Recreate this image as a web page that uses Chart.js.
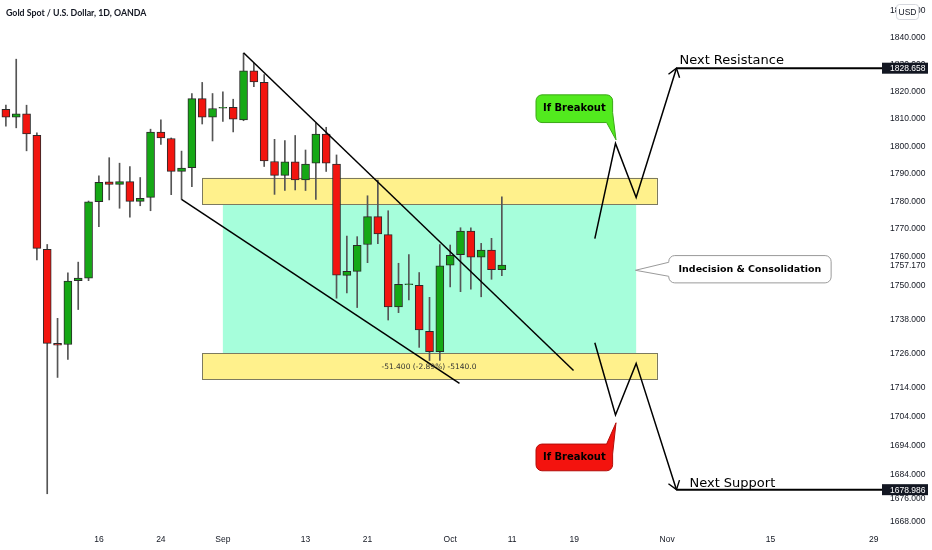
<!DOCTYPE html>
<html>
<head>
<meta charset="utf-8">
<title>Gold Spot / U.S. Dollar, 1D, OANDA</title>
<script src="https://cdn.jsdelivr.net/npm/chart.js@4.4.1/dist/chart.umd.min.js"></script>
<style>
  html, body { margin: 0; padding: 0; background: #ffffff; }
  #wrap { width: 932px; height: 550px; position: relative; }
</style>
</head>
<body>
<div id="wrap"><canvas id="goldChart"></canvas></div>
<script>
// Daily bars, index 0 = Aug 16 (weekends skipped)
const barIndex = [-9, -8, -7, -6, -5, -4, -3, -2, -1, 0, 1, 2, 3, 4, 5, 6, 7, 8, 9, 10,
                  11, 12, 13, 14, 15, 16, 17, 18, 19, 20, 21, 22, 23, 24, 25, 26, 27, 28, 29, 30,
                  31, 32, 33, 34, 35, 36, 37, 38, 39];
const opens  = [1813.5, 1810.6, 1811.8, 1804.0, 1762.8, 1729.5, 1729.1, 1751.6, 1752.5, 1779.9,
                1787.0, 1786.1, 1787.1, 1780.0, 1781.4, 1805.1, 1802.8, 1790.8, 1792.2, 1817.4,
                1810.6, 1813.9, 1814.2, 1809.6, 1827.7, 1823.4, 1794.4, 1789.4, 1794.3, 1787.7,
                1793.8, 1804.4, 1793.5, 1753.5, 1754.9, 1764.5, 1774.5, 1768.0, 1742.3, 1750.2,
                1750.0, 1733.7, 1726.6, 1757.1, 1760.9, 1769.3, 1760.0, 1762.5, 1755.5];
const highs  = [1815.0, 1832.0, 1815.0, 1804.9, 1764.5, 1738.3, 1754.4, 1758.2, 1780.1, 1789.2,
                1795.8, 1793.8, 1792.6, 1788.6, 1806.2, 1809.6, 1803.0, 1798.2, 1819.3, 1823.4,
                1819.3, 1819.9, 1817.2, 1834.2, 1830.5, 1826.3, 1802.5, 1802.0, 1803.9, 1798.6,
                1808.4, 1806.9, 1796.8, 1767.5, 1767.3, 1782.0, 1787.7, 1776.6, 1757.8, 1760.9,
                1754.5, 1745.7, 1764.5, 1764.3, 1770.5, 1770.5, 1764.9, 1766.7, 1781.6];
const lows   = [1807.3, 1806.7, 1798.3, 1759.0, 1677.6, 1717.6, 1723.9, 1741.4, 1751.6, 1770.9,
                1780.5, 1777.5, 1774.3, 1778.4, 1776.6, 1800.6, 1782.4, 1780.7, 1785.3, 1808.1,
                1801.9, 1809.0, 1805.2, 1809.3, 1821.8, 1792.6, 1782.5, 1783.9, 1784.1, 1783.9,
                1780.7, 1790.8, 1745.4, 1747.3, 1742.1, 1758.0, 1764.8, 1737.7, 1740.3, 1744.8,
                1728.1, 1723.5, 1723.5, 1749.4, 1747.7, 1748.6, 1745.9, 1752.1, 1753.4];
const closes = [1810.6, 1811.8, 1804.5, 1763.1, 1729.5, 1728.9, 1751.5, 1752.5, 1779.8, 1786.9,
                1786.1, 1787.1, 1780.0, 1781.1, 1805.1, 1803.0, 1790.8, 1792.0, 1817.4, 1810.6,
                1813.8, 1814.2, 1809.9, 1827.7, 1823.6, 1794.6, 1789.4, 1794.3, 1787.7, 1793.5,
                1804.4, 1793.8, 1753.6, 1754.9, 1764.2, 1774.5, 1768.3, 1742.3, 1750.3, 1750.5,
                1734.2, 1726.6, 1756.9, 1760.6, 1769.3, 1760.0, 1762.5, 1755.5, 1757.17];

// Time axis labels
const dateTickIndex  = [0, 6, 12, 20, 26, 34, 40, 46, 55, 65, 75];
const dateTickLabels = ['16', '24', 'Sep', '13', '21', 'Oct', '11', '19', 'Nov', '15', '29'];

// Price axis labels (log scale)
const priceTicks = [1850, 1840, 1830, 1820, 1810, 1800, 1790, 1780, 1770, 1760, 1750,
                    1738, 1726, 1714, 1704, 1694, 1684, 1676, 1668];

// Drawings: trend lines of the falling channel
const trendUpperX = [14.0, 45.94];
const trendUpperY = [1834.4, 1720.0];
const trendLowerX = [8.0, 34.9];
const trendLowerY = [1780.7, 1715.5];

// Breakout scenarios
const bullPathX = [48.0, 50.0, 52.0, 55.9];
const bullPathY = [1766.6, 1801.0, 1781.4, 1828.658];
const bearPathX = [48.0, 50.0, 52.0, 55.9];
const bearPathY = [1729.7, 1704.6, 1722.5, 1678.986];

// Zones: consolidation box, supply band, demand band
const zoneFrom   = [12, 10, 10];
const zoneTo     = [52, 54, 54];
const zoneTop    = [1779.0, 1788.5, 1726.0];
const zoneBottom = [1726.0, 1779.0, 1717.0];

// Callout tips and texts
const calloutX    = [50.05, 50.05, 51.93];
const calloutY    = [1802.3, 1701.9, 1755.3];
const calloutText = ['If Breakout', 'If Breakout', 'Indecision & Consolidation'];

const lastPrice = 1757.17;
const measureX = 27.35;
const measureY = 1721.3;
const measureText = '-51.400 (-2.89%) -5140.0';

const xMin = -9.57, xMax = 75.6;
const yMin = 1666.0, yMax = 1854.1;

const AXIS_FONT = { family: 'Liberation Sans, Arial, sans-serif', size: 8.5 };
const TEXT_COLOR = '#131722';

const bodies = barIndex.map((x, i) => ({ x: x, y: [opens[i], closes[i]] }));
const wicks  = barIndex.map((x, i) => ({ x: x, y: [lows[i], highs[i]] }));
const candleColors = barIndex.map((x, i) => closes[i] >= opens[i] ? '#15A815' : '#F2150F');
const toPoints = (xs, ys) => xs.map((x, i) => ({ x: x, y: ys[i] }));

function roundRectPath(ctx, l, t, r, b, rad) {
    ctx.moveTo(l + rad, t);
    ctx.lineTo(r - rad, t);
    ctx.arcTo(r, t, r, t + rad, rad);
    ctx.lineTo(r, b - rad);
    ctx.arcTo(r, b, r - rad, b, rad);
    ctx.lineTo(l + rad, b);
    ctx.arcTo(l, b, l, b - rad, rad);
    ctx.lineTo(l, t + rad);
    ctx.arcTo(l, t, l + rad, t, rad);
}

function drawArrowHead(ctx, fromX, fromY, tipX, tipY) {
    const a = Math.atan2(fromY - tipY, fromX - tipX);
    const len = 10, spread = 0.62;
    ctx.beginPath();
    ctx.moveTo(tipX + len * Math.cos(a - spread), tipY + len * Math.sin(a - spread));
    ctx.lineTo(tipX, tipY);
    ctx.lineTo(tipX + len * Math.cos(a + spread), tipY + len * Math.sin(a + spread));
    ctx.stroke();
}

function priceBox(ctx, area, yPix, text, bg, fg) {
    ctx.fillStyle = bg;
    ctx.fillRect(area.right + 2, yPix - 5.5, 46, 11);
    ctx.fillStyle = fg;
    ctx.font = '8.5px "Liberation Sans", Arial, sans-serif';
    ctx.textAlign = 'left';
    ctx.textBaseline = 'middle';
    ctx.fillText(text, area.right + 10, yPix + 0.5);
}

const overlayPlugin = {
    id: 'overlay',
    beforeDatasetsDraw(chart) {
        const { ctx, chartArea, scales: { x, y } } = chart;
        ctx.save();
        ctx.beginPath();
        ctx.rect(chartArea.left, chartArea.top, chartArea.width, chartArea.height);
        ctx.clip();
        zoneFrom.forEach((from, i) => {
            const l = x.getPixelForValue(from), r = x.getPixelForValue(zoneTo[i]);
            const t = y.getPixelForValue(zoneTop[i]), b = y.getPixelForValue(zoneBottom[i]);
            if (i === 0) {
                ctx.fillStyle = '#A6FEDB';
                ctx.fillRect(l, t, r - l, b - t);
            } else {
                ctx.fillStyle = '#FFF18C';
                ctx.fillRect(l, t, r - l, b - t);
                ctx.strokeStyle = '#7c7a60';
                ctx.lineWidth = 1;
                ctx.strokeRect(Math.round(l) + 0.5, Math.round(t) + 0.5, Math.round(r - l), Math.round(b - t));
            }
        });
        ctx.restore();
    },
    afterDraw(chart) {
        const { ctx, chartArea, scales: { x, y } } = chart;
        const n = bullPathX.length - 1;
        ctx.save();

        // level lines to the price axis
        ctx.strokeStyle = '#000';
        ctx.lineWidth = 2;
        [[bullPathX, bullPathY], [bearPathX, bearPathY]].forEach(([px, py]) => {
            const yy = y.getPixelForValue(py[n]);
            ctx.beginPath();
            ctx.moveTo(x.getPixelForValue(px[n]), yy);
            ctx.lineTo(chartArea.right + 2, yy);
            ctx.stroke();
        });

        // arrow heads at the end of the scenarios
        ctx.lineWidth = 1.4;
        [[bullPathX, bullPathY], [bearPathX, bearPathY]].forEach(([px, py]) => {
            drawArrowHead(ctx, x.getPixelForValue(px[n - 1]), y.getPixelForValue(py[n - 1]),
                          x.getPixelForValue(px[n]), y.getPixelForValue(py[n]));
        });

        // target texts
        ctx.fillStyle = '#000';
        ctx.font = '13px "DejaVu Sans", Verdana, sans-serif';
        ctx.textAlign = 'left';
        ctx.textBaseline = 'alphabetic';
        ctx.fillText('Next Resistance', x.getPixelForValue(bullPathX[n]) + 3, y.getPixelForValue(bullPathY[n]) - 4);
        ctx.fillText('Next Support', x.getPixelForValue(bearPathX[n]) + 13, y.getPixelForValue(bearPathY[n]) - 2.5);

        // measure tool text
        ctx.fillStyle = '#333';
        ctx.font = '7.5px "DejaVu Sans", Verdana, sans-serif';
        ctx.textBaseline = 'middle';
        ctx.fillText(measureText, x.getPixelForValue(measureX), y.getPixelForValue(measureY));

        // callouts
        calloutX.forEach((cx, i) => {
            const tx = x.getPixelForValue(cx), ty = y.getPixelForValue(calloutY[i]);
            const rad = 6;
            let l, r, t, b;
            ctx.beginPath();
            if (i === 0) {
                l = tx - 80; r = tx - 3.4; t = ty - 45; b = ty - 17.3;
                ctx.moveTo(l + rad, t);
                ctx.lineTo(r - rad, t);
                ctx.arcTo(r, t, r, t + rad, rad);
                ctx.lineTo(r, b - 10);
                ctx.lineTo(tx, ty);
                ctx.lineTo(r - 6, b);
                ctx.lineTo(l + rad, b);
                ctx.arcTo(l, b, l, b - rad, rad);
                ctx.lineTo(l, t + rad);
                ctx.arcTo(l, t, l + rad, t, rad);
                ctx.fillStyle = '#52EA1E';
                ctx.strokeStyle = '#3aa816';
            } else if (i === 1) {
                l = tx - 80; r = tx - 3.4; t = ty + 21.3; b = ty + 48;
                ctx.moveTo(l + rad, t);
                ctx.lineTo(r - 6, t);
                ctx.lineTo(tx, ty);
                ctx.lineTo(r, t + 10);
                ctx.lineTo(r, b - rad);
                ctx.arcTo(r, b, r - rad, b, rad);
                ctx.lineTo(l + rad, b);
                ctx.arcTo(l, b, l, b - rad, rad);
                ctx.lineTo(l, t + rad);
                ctx.arcTo(l, t, l + rad, t, rad);
                ctx.fillStyle = '#F3130E';
                ctx.strokeStyle = '#b30c08';
            } else {
                l = tx + 33.3; r = tx + 195.7; t = ty - 14.7; b = ty + 12.6;
                ctx.moveTo(l + rad, t);
                ctx.lineTo(r - rad, t);
                ctx.arcTo(r, t, r, t + rad, rad);
                ctx.lineTo(r, b - rad);
                ctx.arcTo(r, b, r - rad, b, rad);
                ctx.lineTo(l + rad, b);
                ctx.arcTo(l, b, l, b - rad, rad);
                ctx.lineTo(l, ty + 6);
                ctx.lineTo(tx, ty);
                ctx.lineTo(l, ty - 8);
                ctx.lineTo(l, t + rad);
                ctx.arcTo(l, t, l + rad, t, rad);
                ctx.fillStyle = '#ffffff';
                ctx.strokeStyle = '#9a9a9a';
            }
            ctx.closePath();
            ctx.fill();
            ctx.lineWidth = 1;
            ctx.stroke();
            ctx.fillStyle = '#000';
            ctx.font = (i === 2 ? 'bold 9.5px' : 'bold 10px') + ' "DejaVu Sans", Verdana, sans-serif';
            ctx.textAlign = 'center';
            ctx.textBaseline = 'middle';
            ctx.fillText(calloutText[i], (l + r) / 2, (t + b) / 2);
        });

        // price axis labels
        priceBox(ctx, chartArea, y.getPixelForValue(bullPathY[n]), bullPathY[n].toFixed(3), '#131722', '#ffffff');
        priceBox(ctx, chartArea, y.getPixelForValue(bearPathY[n]), bearPathY[n].toFixed(3), '#131722', '#ffffff');
        priceBox(ctx, chartArea, y.getPixelForValue(lastPrice), lastPrice.toFixed(3), '#ffffff', TEXT_COLOR);

        // currency button
        ctx.beginPath();
        roundRectPath(ctx, 896.5, 4.5, 918.5, 19.5, 3);
        ctx.fillStyle = '#ffffff';
        ctx.fill();
        ctx.strokeStyle = '#d6d8de';
        ctx.lineWidth = 1;
        ctx.stroke();
        ctx.fillStyle = TEXT_COLOR;
        ctx.font = '8.5px "Liberation Sans", Arial, sans-serif';
        ctx.textAlign = 'center';
        ctx.textBaseline = 'middle';
        ctx.fillText('USD', 907.5, 12.3);

        // symbol title
        ctx.font = 'bold 8.8px Lato, "Liberation Sans", sans-serif';
        ctx.textAlign = 'left';
        ctx.fillText('Gold Spot / U.S. Dollar, 1D, OANDA', 6, 13.3);
        ctx.restore();
    }
};

const lineStyle = { type: 'line', borderColor: '#000', borderWidth: 1.5, pointRadius: 0, tension: 0, fill: false, order: 0 };

new Chart(document.getElementById('goldChart').getContext('2d'), {
    type: 'bar',
    data: {
        datasets: [
            { ...lineStyle, data: toPoints(trendUpperX, trendUpperY) },
            { ...lineStyle, data: toPoints(trendLowerX, trendLowerY) },
            { ...lineStyle, data: toPoints(bullPathX, bullPathY) },
            { ...lineStyle, data: toPoints(bearPathX, bearPathY) },
            {
                data: bodies,
                backgroundColor: candleColors,
                borderColor: '#2a2a2a',
                borderWidth: 1,
                borderSkipped: false,
                barThickness: 8,
                grouped: false,
                order: 1
            },
            {
                data: wicks,
                backgroundColor: '#555555',
                borderWidth: 0,
                barThickness: 1,
                grouped: false,
                order: 2
            }
        ]
    },
    options: {
        responsive: true,
        maintainAspectRatio: false,
        animation: false,
        events: [],
        layout: { padding: 0 },
        plugins: {
            legend: { display: false },
            tooltip: { enabled: false }
        },
        scales: {
            x: {
                type: 'linear',
                min: xMin,
                max: xMax,
                offset: false,
                bounds: 'data',
                grid: { display: false, drawTicks: false },
                border: { display: false },
                afterBuildTicks: s => { s.ticks = dateTickIndex.map(v => ({ value: v })); },
                afterFit: s => { s.height = 22; s.paddingLeft = 0; s.paddingRight = 0; },
                ticks: {
                    autoSkip: false,
                    maxRotation: 0,
                    padding: 7,
                    color: TEXT_COLOR,
                    font: AXIS_FONT,
                    callback: v => {
                        const k = dateTickIndex.indexOf(v);
                        return k >= 0 ? dateTickLabels[k] : '';
                    }
                }
            },
            y: {
                type: 'logarithmic',
                position: 'right',
                min: yMin,
                max: yMax,
                bounds: 'data',
                grid: { display: false, drawTicks: false },
                border: { display: false },
                afterBuildTicks: s => { s.ticks = priceTicks.map(v => ({ value: v })); },
                afterFit: s => { s.width = 52; s.paddingTop = 0; s.paddingBottom = 0; },
                ticks: {
                    autoSkip: false,
                    padding: 10,
                    color: TEXT_COLOR,
                    font: AXIS_FONT,
                    callback: v => Number(v).toFixed(3)
                }
            }
        }
    },
    plugins: [overlayPlugin]
});
</script>
</body>
</html>
